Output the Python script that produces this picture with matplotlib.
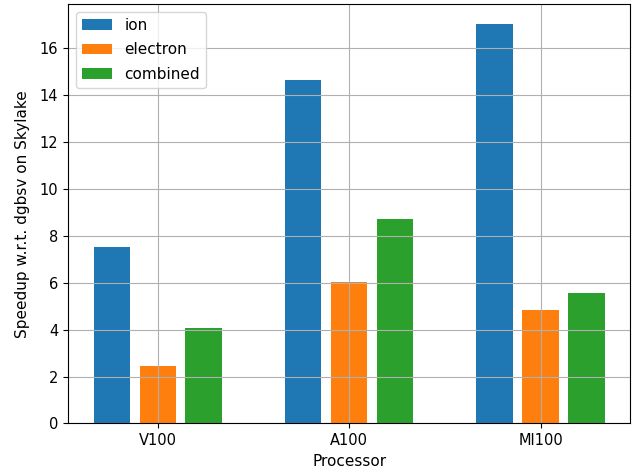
import numpy as np
import matplotlib
matplotlib.use("Agg")
import matplotlib.pyplot as plt

# --- data ---
processors = ["V100", "A100", "MI100"]
ion = [7.51, 14.61, 17.01]
electron = [2.45, 6.03, 4.83]
combined = [4.06, 8.71, 5.56]

x = np.arange(len(processors))
width = 0.19
offset = 0.24

fig, ax = plt.subplots(figsize=(6.36, 4.76), dpi=100)

ax.bar(x - offset, ion, width, label="ion")
ax.bar(x, electron, width, label="electron")
ax.bar(x + offset, combined, width, label="combined")

ax.set_xticks(x)
ax.set_xticklabels(processors)
ax.tick_params(labelsize=10.5)
ax.set_xlabel("Processor", fontsize=11)
ax.set_ylabel("Speedup w.r.t. dgbsv on Skylake", fontsize=11, labelpad=7)
ax.grid(True)
ax.legend(loc="upper left", fontsize=11, labelspacing=0.62)

fig.subplots_adjust(left=0.107, right=0.991, top=0.9916, bottom=0.1103)
fig.savefig("out.png")
